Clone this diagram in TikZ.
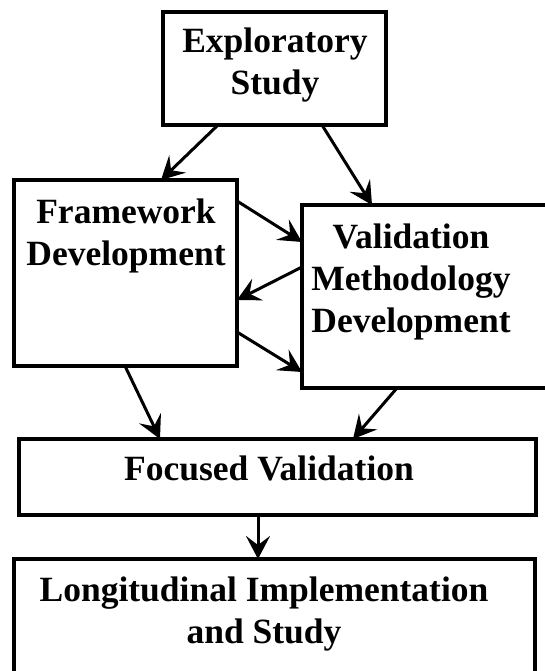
\documentclass[tikz,border=0pt]{standalone}
\usepackage{fontspec}
\setmainfont{Liberation Serif}
\usetikzlibrary{arrows.meta}

\begin{document}
\begin{tikzpicture}[x=1pt,y=-1pt,
        box/.style={draw, line width=4pt, inner sep=0pt, outer sep=0pt},
        boxtext/.style={anchor=base, align=center, inner sep=0pt,
            font=\fontsize{35.5}{42}\selectfont\bfseries},
        arr/.style={line width=3pt, -{Stealth[length=23pt,width=24pt,inset=9pt]}}]
        \useasboundingbox (0,0) rectangle (545,671);
        \clip (0,0) rectangle (545,671);
        % boxes
        \node[box, minimum width=223pt, minimum height=113pt] (explor) at (274.5,68.5) {};
        \node[box, minimum width=223pt, minimum height=186pt] (frame) at (125.5,273) {};
        \node[box, minimum width=258pt, minimum height=183pt] (valid) at (431,296.5) {};
        \node[box, minimum width=517pt, minimum height=76pt] (focus) at (277.5,477) {};
        \node[box, minimum width=521pt, minimum height=141pt] (longi) at (274.5,629.5) {};
        % texts (anchored at the baseline of their last line)
        \node[boxtext] (explortxt) at (275,95) {Exploratory\\Study};
        \node[boxtext] (frametxt) at (126,265) {Framework\\Development};
        \node[boxtext] (validtxt) at (411,332) {Validation\\Methodology\\Development};
        \node[boxtext] (focustxt) at (269,480) {Focused Validation};
        \node[boxtext] (longitxt) at (264,643) {Longitudinal Implementation\\and Study};
        % arrows
        \draw[arr] (explor.south -| 218,0) -- (frame.north -| 161,0);
        \draw[arr] (explor.south -| 322,0) -- (valid.north -| 372,0);
        \draw[arr] (frame.east |- 0,201) -- (valid.west |- 0,242);
        \draw[arr] (valid.west |- 0,267) -- (frame.east |- 0,300);
        \draw[arr] (frame.east |- 0,332) -- (valid.west |- 0,372);
        \draw[arr] (frame.south -| 125,0) -- (focus.north -| 160,0);
        \draw[arr] (valid.south -| 397,0) -- (focus.north -| 353,0);
        \draw[arr] (focus.south -| 258,0) -- (longi.north -| 258,0);
\end{tikzpicture}
\end{document}
